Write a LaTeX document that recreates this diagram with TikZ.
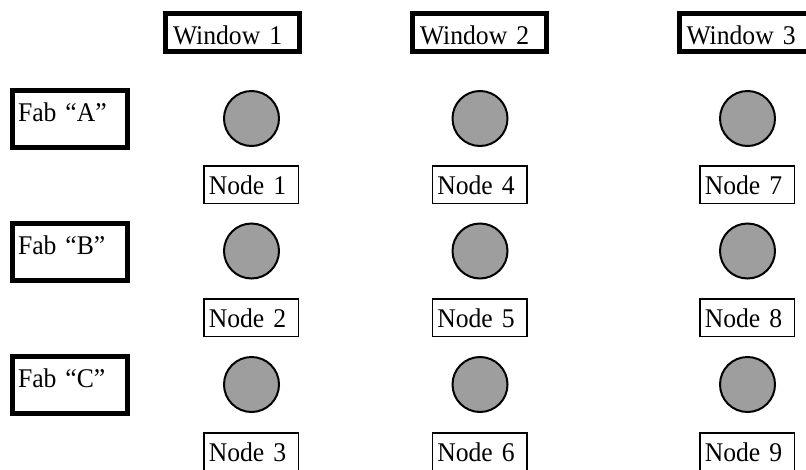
\documentclass[tikz,border=0pt]{standalone}
\usepackage{fontspec}
\setmainfont{Liberation Serif}[FakeStretch=0.95]
\definecolor{sitegray}{RGB}{158,158,158}
\begin{document}
\begin{tikzpicture}[x=1pt,y=-1pt,
  font=\fontsize{27}{32}\selectfont,
  heavybox/.style={draw=black, line width=5pt, inner sep=0pt, align=left},
  windowbox/.style={heavybox, minimum width=134pt, minimum height=38pt,
    text width=119pt, text height=23pt, text depth=0pt},
  fabbox/.style={heavybox, minimum width=115pt, minimum height=57pt,
    text width=104pt, text height=12pt, text depth=7pt},
  nodebox/.style={draw=black, line width=1.5pt, inner sep=0pt, align=left,
    minimum width=94.5pt, minimum height=37.5pt,
    text width=84.5pt, text height=19pt, text depth=0pt},
  site/.style={circle, draw=black, line width=2pt, fill=sitegray,
    minimum size=55pt, inner sep=0pt}]
\useasboundingbox (0,0) rectangle (806,469);

% time windows (column headers)
\node[windowbox] (w1) at (232.5,32.5) {Window 1};
\node[windowbox] (w2) at (479.5,32.5) {Window 2};
\node[windowbox] (w3) at (746,32.5)   {Window 3};

% fabs (row headers)
\node[fabbox] (fa) at (70,119)   {Fab “A”};
\node[fabbox] (fb) at (70,251.5) {Fab “B”};
\node[fabbox] (fc) at (70,384.5) {Fab “C”};

% grid of sites
\foreach \col/\x/\bx in {0/251.5/251, 1/480/479.5, 2/747.5/747}{
  \foreach \row/\y/\by in {1/118.5/184.5, 2/251/317.5, 3/384.5/451.5}{
    \pgfmathtruncatemacro{\k}{3*\col+\row}
    \node[site] (s\k) at (\x,\y) {};
    \node[nodebox] (n\k) at (\bx,\by) {Node \k};
  }
}
\end{tikzpicture}
\end{document}
